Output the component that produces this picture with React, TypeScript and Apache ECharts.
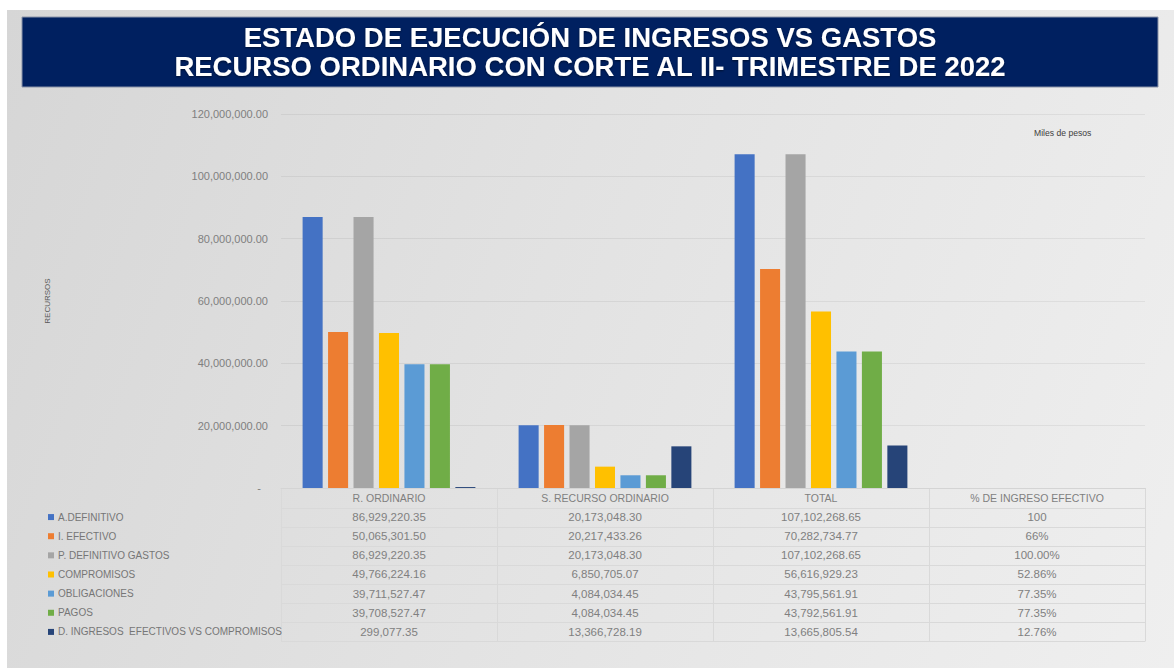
import React, { useEffect, useRef } from "react";
import * as echarts from "echarts";

const categories = ["R. ORDINARIO", "S. RECURSO ORDINARIO", "TOTAL", "% DE INGRESO EFECTIVO"];
const seriesNames = [
  "A.DEFINITIVO",
  "I. EFECTIVO",
  "P. DEFINITIVO GASTOS",
  "COMPROMISOS",
  "OBLIGACIONES",
  "PAGOS",
  "D. INGRESOS\u00a0\u00a0EFECTIVOS VS COMPROMISOS",
];
const seriesColors = ["#4472C4", "#ED7D31", "#A5A5A5", "#FFC000", "#5B9BD5", "#70AD47", "#264478"];

const aDefinitivo = [86929220.35, 20173048.3, 107102268.65, 100];
const iEfectivo = [50065301.5, 20217433.26, 70282734.77, 0.66];
const pDefinitivoGastos = [86929220.35, 20173048.3, 107102268.65, 1];
const compromisos = [49766224.16, 6850705.07, 56616929.23, 0.5286];
const obligaciones = [39711527.47, 4084034.45, 43795561.91, 0.7735];
const pagos = [39708527.47, 4084034.45, 43792561.91, 0.7735];
const dIngresosVsCompromisos = [299077.35, 13366728.19, 13665805.54, 0.1276];
const pctLabels = ["100", "66%", "100.00%", "52.86%", "77.35%", "77.35%", "12.76%"];

const yMin = 0;
const yMax = 120000000;
const yInterval = 20000000;

const titleLines = ["ESTADO DE EJECUCIÓN DE INGRESOS VS GASTOS", "RECURSO ORDINARIO CON CORTE AL II- TRIMESTRE DE 2022"];
const unitsNote = "Miles de pesos";
const yAxisName = "RECURSOS";

const FONT = "'Liberation Sans', Arial, sans-serif";

const fmt = (v: number) =>
  v.toLocaleString("en-US", { minimumFractionDigits: 2, maximumFractionDigits: 2 });

export default function App() {
  const ref = useRef<HTMLDivElement>(null);

  useEffect(() => {
    if (!ref.current) return;
    const chart = echarts.init(ref.current, undefined, { renderer: "svg" });
    const allSeries = [
      aDefinitivo,
      iEfectivo,
      pDefinitivoGastos,
      compromisos,
      obligaciones,
      pagos,
      dIngresosVsCompromisos,
    ];

    chart.setOption({
      animation: false,
      grid: { left: 281, right: 29, top: 114, bottom: 180, containLabel: false },
      xAxis: {
        type: "category",
        data: categories,
        axisLine: { show: true, lineStyle: { color: "#d4d4d4" } },
        axisTick: { show: false },
        axisLabel: { show: false },
      },
      yAxis: {
        type: "value",
        min: yMin,
        max: yMax,
        interval: yInterval,
        name: yAxisName,
        nameLocation: "middle",
        nameGap: 230,
        nameRotate: 90,
        nameTextStyle: { color: "#595959", fontSize: 8, fontFamily: FONT },
        axisLine: { show: false },
        axisTick: { show: false },
        splitLine: { lineStyle: { color: "rgba(0,0,0,0.06)", width: 1 } },
        axisLabel: {
          margin: 13,
          color: "#7f7f7f",
          fontSize: 11,
          fontFamily: FONT,
          formatter: (v: number) => (v === 0 ? "{z|-}" : fmt(v)),
          rich: { z: { padding: [0, 7, 0, 0], color: "#7f7f7f", fontSize: 11, fontFamily: FONT } },
        },
      },
      series: allSeries.map((d, i) => ({
        type: "bar",
        name: seriesNames[i],
        data: d,
        barGap: "27%",
        barCategoryGap: "20%",
        itemStyle: { color: seriesColors[i] },
      })),
    });

    // Table layout from the chart's own scales
    const c0 = chart.convertToPixel({ xAxisIndex: 0 }, 0) as number;
    const c1 = chart.convertToPixel({ xAxisIndex: 0 }, 1) as number;
    const bw = c1 - c0;
    const base = chart.convertToPixel({ yAxisIndex: 0 }, 0) as number;
    const tableLeft = c0 - bw / 2;
    const tableRight = tableLeft + bw * categories.length;
    const headerH = 19.5;
    const rowH = 19.14;
    const lineColor = "#d9d9d9";
    const g: any[] = [];

    // Title banner
    g.push({
      type: "rect",
      shape: { x: 22, y: 17, width: 1136, height: 70 },
      style: { fill: "#002060", stroke: "#8a93a8", lineWidth: 1 },
    });
    titleLines.forEach((t, i) => {
      g.push({
        type: "text",
        x: 590,
        y: 37 + i * 29,
        style: {
          text: t,
          fill: "#ffffff",
          font: `bold 27.5px ${FONT}`,
          align: "center",
          verticalAlign: "middle",
          textShadowColor: "rgba(0,0,0,0.5)",
          textShadowBlur: 2,
          textShadowOffsetY: 1,
        },
      });
    });

    g.push({
      type: "text",
      x: 1034,
      y: 133,
      style: { text: unitsNote, fill: "#404040", font: `8.6px ${FONT}`, verticalAlign: "middle" },
    });

    // horizontal lines
    const nLines = seriesNames.length + 1;
    for (let i = 0; i <= nLines; i++) {
      const y = i === 0 ? base : base + headerH + (i - 1) * rowH;
      g.push({
        type: "line",
        shape: { x1: tableLeft, y1: Math.round(y) + 0.5, x2: tableRight, y2: Math.round(y) + 0.5 },
        style: { stroke: lineColor, lineWidth: 1 },
        silent: true,
      });
    }
    const bottom = base + headerH + seriesNames.length * rowH;
    for (let k = 0; k <= categories.length; k++) {
      const x = Math.round(tableLeft + k * bw) + 0.5;
      g.push({
        type: "line",
        shape: { x1: x, y1: base, x2: x, y2: bottom },
        style: { stroke: lineColor, lineWidth: 1 },
        silent: true,
      });
    }
    // header
    categories.forEach((cat, k) => {
      g.push({
        type: "text",
        x: c0 + k * bw,
        y: base + headerH / 2 + 0.5,
        style: { text: cat, fill: "#7f7f7f", font: `10.5px ${FONT}`, align: "center", verticalAlign: "middle" },
      });
    });
    // rows
    seriesNames.forEach((name, i) => {
      const yc = base + headerH + i * rowH + rowH / 2;
      g.push({
        type: "rect",
        shape: { x: 48, y: yc - 3, width: 6, height: 6 },
        style: { fill: seriesColors[i] },
      });
      g.push({
        type: "text",
        x: 58,
        y: yc,
        style: { text: name, fill: "#767676", font: `10px ${FONT}`, verticalAlign: "middle" },
      });
      categories.forEach((_, k) => {
        const txt = k === categories.length - 1 ? pctLabels[i] : fmt(allSeries[i][k]);
        g.push({
          type: "text",
          x: c0 + k * bw,
          y: yc,
          style: { text: txt, fill: "#808080", font: `11.5px ${FONT}`, align: "center", verticalAlign: "middle" },
        });
      });
    });

    chart.setOption({ graphic: g });

    return () => chart.dispose();
  }, []);

  return (
    <div style={{ position: "fixed", left: 0, top: 0, width: 1174, height: 668, background: "#ffffff" }}>
      <div
        style={{
          position: "absolute",
          left: 7,
          top: 10,
          right: 0,
          bottom: 0,
          background: "linear-gradient(110deg, #d6d6d6 0%, #e2e2e2 45%, #efefef 100%)",
        }}
      />
      <div ref={ref} style={{ position: "absolute", left: 0, top: 0, width: 1174, height: 668 }} />
    </div>
  );
}
